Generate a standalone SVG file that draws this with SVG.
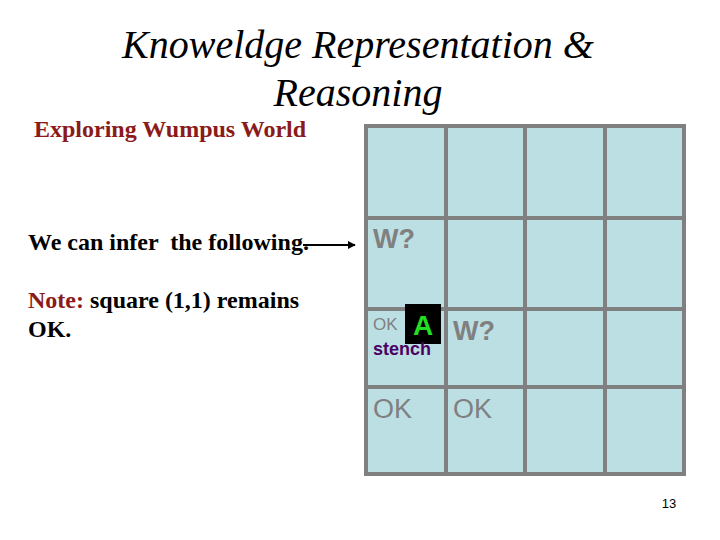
<svg xmlns="http://www.w3.org/2000/svg" width="720" height="540" viewBox="0 0 720 540">
<style>
.body{font-family:"Liberation Serif","Times New Roman",serif;font-weight:bold;font-size:24px;fill:#000}
.red{fill:#8B1A1A}
.grid{fill:#BBDFE3;stroke:#808080;stroke-width:4}
.gl{stroke:#808080;stroke-width:4;fill:none}
.g{font-family:"Liberation Sans",Arial,sans-serif;fill:#808080}
.w{font-size:27px;font-weight:bold}
.ok{font-size:27px}
.oks{font-size:17px}
.conn{stroke:#000;stroke-width:2;fill:none}
</style>
<defs>
<marker id="arr" viewBox="0 0 10 10" refX="9" refY="5" markerWidth="4" markerHeight="4" orient="auto">
<path d="M0,0 L10,5 L0,10 z" fill="#000"/>
</marker>
</defs>
<rect width="720" height="540" fill="#fff"/>
<g id="heading">
<text x="358" y="58" font-family="Liberation Serif" font-style="italic" font-size="40" text-anchor="middle" fill="#000">Knoweldge Representation &amp;</text>
<text x="358" y="106" font-family="Liberation Serif" font-style="italic" font-size="40" text-anchor="middle" fill="#000">Reasoning</text>
</g>
<g id="subtitle"><text class="body red" x="34" y="137">Exploring Wumpus World</text></g>
<g id="infer"><text class="body" x="28" y="250" xml:space="preserve">We can infer  the following.</text></g>
<g id="note">
<text class="body" x="28" y="308"><tspan class="red">Note:</tspan> square (1,1) remains</text>
<text class="body" x="28" y="337">OK.</text>
</g>
<g id="grid">
<rect class="grid" x="366" y="126" width="318" height="348"/>
<line class="gl" x1="446" y1="126" x2="446" y2="474"/>
<line class="gl" x1="525" y1="126" x2="525" y2="474"/>
<line class="gl" x1="605" y1="126" x2="605" y2="474"/>
<line class="gl" x1="366" y1="218" x2="684" y2="218"/>
<line class="gl" x1="366" y1="309" x2="684" y2="309"/>
<line class="gl" x1="366" y1="387" x2="684" y2="387"/>
</g>
<g id="cell-1-3"><text class="g w" x="373" y="248">W?</text></g>
<g id="cell-1-2">
<text class="g oks" x="373" y="330">OK</text>
<rect x="405" y="304" width="36" height="40" fill="#000"/>
<text x="423" y="335" text-anchor="middle" font-family="'Liberation Sans',Arial,sans-serif" font-weight="bold" font-size="28" fill="#22DD22">A</text>
<text x="373" y="355" font-family="'Liberation Sans',Arial,sans-serif" font-weight="bold" font-size="18" fill="#4B0062">stench</text>
</g>
<g id="cell-2-2"><text class="g w" x="453" y="340">W?</text></g>
<g id="cell-1-1"><text class="g ok" x="373" y="418">OK</text></g>
<g id="cell-2-1"><text class="g ok" x="453" y="418">OK</text></g>
<g id="connectors">
<line class="conn" x1="303" y1="245" x2="355" y2="245" marker-end="url(#arr)"/>
</g>
<g id="page"><text x="669" y="508" text-anchor="middle" font-family="'Liberation Sans',Arial,sans-serif" font-size="13" fill="#000">13</text></g>
</svg>
